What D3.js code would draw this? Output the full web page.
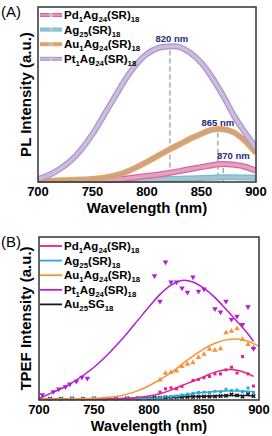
<!DOCTYPE html>
<html>
<head>
<meta charset="utf-8">
<script src="https://cdn.jsdelivr.net/npm/d3@7"></script>
<style>
  body { margin: 0; background: #fff; }
  svg { display: block; font-family: "Liberation Sans", Arial, sans-serif; }
</style>
</head>
<body>
<script>
// ---- panel A: PL spectra ----
var wavelengthA = [700, 710, 720, 730, 740, 750, 760, 770, 780, 790, 800, 810, 820, 830, 840, 850, 860, 870, 880, 890, 900];
var ptPL = [0.011, 0.034, 0.069, 0.116, 0.183, 0.269, 0.373, 0.478, 0.583, 0.669, 0.731, 0.764, 0.773, 0.770, 0.735, 0.678, 0.592, 0.488, 0.373, 0.278, 0.192];
var auPL = [0.002, 0.002, 0.004, 0.006, 0.008, 0.011, 0.019, 0.030, 0.050, 0.078, 0.110, 0.145, 0.179, 0.211, 0.244, 0.272, 0.295, 0.297, 0.278, 0.230, 0.160];
var pdPL = [0, 0, 0, 0, 0, 0, 0.004, 0.008, 0.013, 0.021, 0.029, 0.036, 0.046, 0.057, 0.069, 0.080, 0.091, 0.097, 0.093, 0.082, 0.059];
var agPL = [0, 0, 0, 0, 0, 0, 0, 0.002, 0.004, 0.006, 0.008, 0.010, 0.011, 0.013, 0.015, 0.017, 0.019, 0.021, 0.021, 0.020, 0.019];
var peakLabels = ["820 nm", "865 nm", "870 nm"];
var peakWavelengths = [821, 865, 870];
var peakValues = [0.773, 0.301, 0.097];

// ---- panel B: TPEF spectra ----
var fitWavelengthB = [700, 710, 720, 730, 740, 750, 760, 770, 780, 790, 800, 810, 820, 830, 840, 850, 860, 870, 880, 890, 895];
var ptFit = [0.002, 0.033, 0.063, 0.100, 0.145, 0.196, 0.258, 0.329, 0.405, 0.487, 0.569, 0.646, 0.703, 0.732, 0.722, 0.683, 0.626, 0.554, 0.479, 0.401, 0.356];
var auFitWavelength = fitWavelengthB.concat([900]);
var auFit = [0, 0, 0, 0.001, 0.002, 0.004, 0.008, 0.015, 0.030, 0.052, 0.082, 0.120, 0.162, 0.215, 0.264, 0.310, 0.344, 0.365, 0.370, 0.356, 0.342, 0.325];
var pdFit = [0, 0, 0, 0, 0, 0, 0, 0.002, 0.004, 0.009, 0.018, 0.033, 0.055, 0.083, 0.110, 0.138, 0.166, 0.181, 0.178, 0.156, 0.139];
var agFit = [0, 0, 0, 0, 0, 0, 0, 0, 0, 0.001, 0.003, 0.008, 0.015, 0.024, 0.033, 0.041, 0.047, 0.050, 0.050, 0.048, 0.046];
var auSGFit = [0, 0, 0, 0, 0.001, 0.001, 0.002, 0.002, 0.003, 0.004, 0.006, 0.008, 0.010, 0.013, 0.015, 0.017, 0.019, 0.021, 0.022, 0.021, 0.020];

var ptPointsWl = [703, 713, 718, 724, 728, 734, 739, 744, 805, 810, 815, 820, 825, 830, 835, 840, 845, 850, 860, 865, 870, 875, 880, 885, 890, 895];
var ptPoints = [0.025, 0.045, 0.061, 0.075, 0.092, 0.109, 0.133, 0.127, 0.761, 0.603, 0.845, 0.722, 0.722, 0.685, 0.658, 0.753, 0.664, 0.679, 0.556, 0.536, 0.603, 0.491, 0.511, 0.460, 0.569, 0.311];
var auPointsWl = [810, 815, 820, 825, 830, 835, 840, 845, 850, 855, 860, 865, 870, 875, 880, 885, 890, 895];
var auPoints = [0.118, 0.160, 0.164, 0.174, 0.201, 0.215, 0.225, 0.256, 0.276, 0.307, 0.302, 0.311, 0.409, 0.419, 0.434, 0.368, 0.337, 0.319];
var pdPointsWl = [810, 815, 820, 825, 830, 840, 845, 850, 855, 860, 865, 870, 875, 880, 885, 890, 895];
var pdPoints = [0.043, 0.063, 0.069, 0.063, 0.078, 0.115, 0.121, 0.131, 0.139, 0.155, 0.155, 0.180, 0.196, 0.160, 0.262, 0.155, 0.080];
var agPointsWl = [710, 720, 730, 740, 750, 760, 770, 780, 790, 800, 810, 820, 825, 830, 835, 840, 845, 850, 855, 860, 865, 870, 875, 880, 885, 890, 895];
var agPoints = [0.002, 0.002, 0.003, 0.002, 0.003, 0.002, 0.003, 0.003, 0.004, 0.005, 0.008, 0.012, 0.018, 0.025, 0.030, 0.035, 0.040, 0.042, 0.040, 0.048, 0.045, 0.060, 0.052, 0.055, 0.045, 0.068, 0.040];
var auSGPointsWl = [710, 720, 730, 740, 750, 760, 770, 780, 790, 800, 805, 810, 815, 820, 825, 830, 835, 840, 845, 850, 855, 860, 865, 870, 875, 880, 885, 890, 895];
var auSGPoints = [0.002, 0.002, 0.003, 0.002, 0.003, 0.002, 0.003, 0.004, 0.004, 0.005, 0.007, 0.008, 0.010, 0.010, 0.012, 0.012, 0.013, 0.013, 0.014, 0.015, 0.015, 0.016, 0.018, 0.020, 0.028, 0.022, 0.015, 0.030, 0.018];

var legendA = ["Pd_1Ag_24(SR)_18", "Ag_25(SR)_18", "Au_1Ag_24(SR)_18", "Pt_1Ag_24(SR)_18"];
var legendB = ["Pd_1Ag_24(SR)_18", "Ag_25(SR)_18", "Au_1Ag_24(SR)_18", "Pt_1Ag_24(SR)_18", "Au_25SG_18"];
var xTicks = [700, 750, 800, 850, 900];

var svg = d3.select("body").append("svg")
    .attr("width", 272).attr("height", 436);

// write "Pd_1Ag_24" style names as text with subscripts
function chemText(sel, name, size) {
  var shift = 0;
  name.split(/(_\d+)/).forEach(function (part) {
    if (!part) return;
    if (part[0] === "_") {
      sel.append("tspan").attr("font-size", size * 0.68).attr("dy", 3).text(part.slice(1));
      shift = -3;
    } else {
      sel.append("tspan").attr("font-size", size).attr("dy", shift).text(part);
      shift = 0;
    }
  });
}

function frame(g, x, y, label, yTitle, titleSize) {
  var x0 = x.range()[0], x1 = x.range()[1];
  var y0 = y.range()[0] + 1, y1 = y.range()[1];
  g.append("rect")
      .attr("x", x0).attr("y", y1)
      .attr("width", x1 - x0).attr("height", y0 - y1)
      .attr("fill", "none").attr("stroke", "#333").attr("stroke-width", 1.5);
  g.selectAll(".tick").data(xTicks).enter().append("text")
      .attr("x", function (d) { return x(d); })
      .attr("y", y0 + 14)
      .attr("text-anchor", "middle")
      .attr("font-size", 13).attr("font-weight", "bold")
      .text(function (d) { return d; });
  g.append("text")
      .attr("x", (x0 + x1) / 2).attr("y", y0 + 31)
      .attr("text-anchor", "middle")
      .attr("font-size", titleSize).attr("font-weight", "bold")
      .text("Wavelength (nm)");
  g.append("text")
      .attr("transform", "translate(31," + ((y0 + y1) / 2) + ") rotate(-90)")
      .attr("text-anchor", "middle")
      .attr("font-size", 15).attr("font-weight", "bold")
      .text(yTitle);
  g.append("text")
      .attr("x", 1).attr("y", y1 + 10)
      .attr("font-size", 15)
      .text(label);
}

// ---------- panel A ----------
var xA = d3.scaleLinear().domain([700, 900]).range([38, 256]);
var yA = d3.scaleLinear().domain([0, 1]).range([181, 7]);
var gA = svg.append("g");

gA.append("clipPath").attr("id", "clipA").append("rect")
    .attr("x", 38).attr("y", 7).attr("width", 218).attr("height", 176);

var lineA = d3.line()
    .x(function (d) { return xA(d[0]); })
    .y(function (d) { return yA(d[1]); })
    .curve(d3.curveCatmullRom);

var seriesA = [
  { values: agPL, outer: "#6cc0dc", inner: "#a9c3cc" },
  { values: pdPL, outer: "#ec5aa3", inner: "#d9a7c0" },
  { values: auPL, outer: "#f0a35a", inner: "#c8a685" },
  { values: ptPL, outer: "#b38fd8", inner: "#c9bfd6" }
];

// peak markers
peakWavelengths.forEach(function (w, i) {
  gA.append("line")
      .attr("x1", xA(w)).attr("x2", xA(w))
      .attr("y1", yA(peakValues[i]) + 4).attr("y2", yA(0) + 1)
      .attr("stroke", "#a8a8a8").attr("stroke-width", 1.5)
      .attr("stroke-dasharray", "5,3");
});

var curvesA = gA.append("g").attr("clip-path", "url(#clipA)");
seriesA.forEach(function (s) {
  var pts = wavelengthA.map(function (w, i) { return [w, s.values[i]]; });
  curvesA.append("path").attr("d", lineA(pts))
      .attr("fill", "none").attr("stroke", s.outer).attr("stroke-width", 6);
  curvesA.append("path").attr("d", lineA(pts))
      .attr("fill", "none").attr("stroke", s.inner).attr("stroke-width", 3.5);
});

var labelDx = [2, 0, 10];
var labelDy = [-4, -3, -5];
peakLabels.forEach(function (t, i) {
  gA.append("text")
      .attr("x", xA(peakWavelengths[i]) + labelDx[i])
      .attr("y", yA(peakValues[i]) + labelDy[i])
      .attr("text-anchor", "middle")
      .attr("font-size", 9.5).attr("font-weight", "bold")
      .attr("fill", "#262b7a")
      .text(t);
});

frame(gA, xA, yA, "(A)", "PL Intensity (a.u.)", 15);

var legA = [seriesA[1], seriesA[0], seriesA[2], seriesA[3]];
legendA.forEach(function (name, i) {
  var ly = 15 + i * 14.6;
  gA.append("line").attr("x1", 40).attr("x2", 62).attr("y1", ly).attr("y2", ly)
      .attr("stroke", legA[i].outer).attr("stroke-width", 4);
  gA.append("line").attr("x1", 40).attr("x2", 62).attr("y1", ly).attr("y2", ly)
      .attr("stroke", legA[i].inner).attr("stroke-width", 1.5);
  gA.append("circle").attr("cx", 51).attr("cy", ly).attr("r", 2.2)
      .attr("fill", "#c4c4c4");
  chemText(gA.append("text").attr("x", 64).attr("y", ly + 4)
      .attr("font-weight", "bold"), name, 11.5);
});

// ---------- panel B ----------
var xB = d3.scaleLinear().domain([700, 900]).range([39, 259]);
var yB = d3.scaleLinear().domain([0, 1]).range([399, 237]);
var gB = svg.append("g");

gB.append("clipPath").attr("id", "clipB").append("rect")
    .attr("x", 39).attr("y", 237).attr("width", 225).attr("height", 164);

var lineB = d3.line()
    .x(function (d) { return xB(d[0]); })
    .y(function (d) { return yB(d[1]); })
    .curve(d3.curveCatmullRom);

var seriesB = [
  { fitWl: fitWavelengthB, fit: auSGFit, wl: auSGPointsWl, pts: auSGPoints, color: "#1a1a1a", sym: d3.symbolCross, rot: 45 },
  { fitWl: fitWavelengthB, fit: agFit, wl: agPointsWl, pts: agPoints, color: "#27a9e1", sym: d3.symbolSquare, rot: 0 },
  { fitWl: fitWavelengthB, fit: pdFit, wl: pdPointsWl, pts: pdPoints, color: "#e8208a", sym: d3.symbolSquare, rot: 0 },
  { fitWl: auFitWavelength, fit: auFit, wl: auPointsWl, pts: auPoints, color: "#f7923a", sym: d3.symbolTriangle, rot: 0 },
  { fitWl: fitWavelengthB, fit: ptFit, wl: ptPointsWl, pts: ptPoints, color: "#b21ed2", sym: d3.symbolTriangle, rot: 180 }
];

var curvesB = gB.append("g").attr("clip-path", "url(#clipB)");
seriesB.forEach(function (s) {
  var pts = s.fitWl.map(function (w, i) { return [w, s.fit[i]]; });
  curvesB.append("path").attr("d", lineB(pts))
      .attr("fill", "none").attr("stroke", s.color).attr("stroke-width", 1.5);
  var sym = d3.symbol().type(s.sym).size(s.sym === d3.symbolSquare ? 9 : 13);
  curvesB.selectAll(null).data(s.wl).enter().append("path")
      .attr("d", sym)
      .attr("transform", function (w, i) {
        return "translate(" + xB(w) + "," + yB(s.pts[i]) + ") rotate(" + s.rot + ")";
      })
      .attr("fill", s.color);
});

frame(gB, xB, yB, "(B)", "TPEF Intensity (a.u.)", 14.5);

var legB = [seriesB[2], seriesB[1], seriesB[3], seriesB[4], seriesB[0]];
legendB.forEach(function (name, i) {
  var ly = 246 + i * 14.6;
  gB.append("line").attr("x1", 40).attr("x2", 62).attr("y1", ly).attr("y2", ly)
      .attr("stroke", legB[i].color).attr("stroke-width", 1.8);
  chemText(gB.append("text").attr("x", 64).attr("y", ly + 4)
      .attr("font-weight", "bold"), name, 11.5);
});
</script>
</body>
</html>
